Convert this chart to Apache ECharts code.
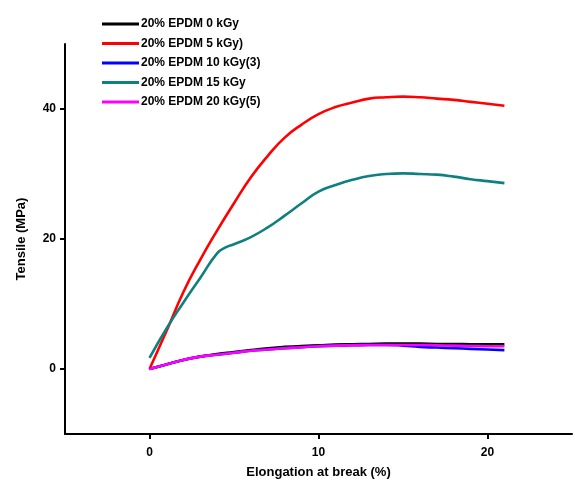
<!DOCTYPE html>
<html><head><meta charset="utf-8">
<script src="https://cdn.jsdelivr.net/npm/echarts@6/dist/echarts.min.js"></script>
<style>html,body{margin:0;padding:0;background:#fff}#c{width:575px;height:481px}</style>
</head><body><div id="c"></div>
<script>
const seriesNames = ['20% EPDM 0 kGy','20% EPDM 5 kGy)','20% EPDM 10 kGy(3)','20% EPDM 15 kGy','20% EPDM 20 kGy(5)'];
const seriesColors = ['#000000','#ff0000','#0000ff','#0f8080','#ff00ff'];
const xLow = [0,1,2,3,4,5,6,7,8,9,10,11,12,13,14,15,16,17,18,19,20,21];
const black0 = [0,0.7,1.4,1.9,2.3,2.6,2.9,3.2,3.4,3.55,3.65,3.75,3.8,3.85,3.9,3.9,3.9,3.85,3.85,3.8,3.8,3.8];
const red5 = [0,5.8,11.8,16.8,21.3,25.5,29.5,32.8,35.6,37.6,39.2,40.3,41.0,41.6,41.8,41.9,41.8,41.6,41.4,41.1,40.8,40.5];
const blue10 = [0,0.7,1.4,1.9,2.2,2.5,2.8,3.0,3.2,3.35,3.5,3.6,3.65,3.7,3.7,3.6,3.4,3.3,3.2,3.1,3.0,2.9];
const xTeal = [0,1,2,3,4,4.5,5,6,7,8,9,10,11,12,13,14,15,16,17,18,19,20,21];
const teal15 = [1.7,6.2,10.2,14.0,17.8,18.7,19.2,20.3,21.8,23.6,25.5,27.3,28.3,29.1,29.7,30.0,30.1,30.0,29.9,29.6,29.2,28.9,28.6];
const mag20 = [0,0.7,1.4,1.9,2.2,2.5,2.8,3.0,3.2,3.35,3.5,3.6,3.65,3.7,3.7,3.7,3.7,3.65,3.6,3.55,3.5,3.5];
const xTicks = [0,10,20];
const yTicks = [0,20,40];

const pair = (xs, ys) => xs.map((x,i)=>[x, ys[i]]);
const seriesData = [pair(xLow,black0), pair(xLow,red5), pair(xLow,blue10), pair(xTeal,teal15), pair(xLow,mag20)];

const chart = echarts.init(document.getElementById('c'));
const font = 'Liberation Sans, Arial, sans-serif';
chart.setOption({
  animation: false,
  backgroundColor: '#fff',
  grid: {left: 65, right: 3, top: 44, bottom: 47, containLabel: false, outerBoundsMode: 'none'},
  legend: {
    orient: 'vertical', left: 97, top: 12,
    itemWidth: 37, itemHeight: 3, itemGap: 5.5, icon: 'rect',
    data: seriesNames,
    textStyle: {fontFamily: font, fontWeight: 'bold', fontSize: 12, color: '#000', lineHeight: 14, padding: [0,0,0,-3]}
  },
  xAxis: {
    type: 'value', min: -5, max: 25,
    name: 'Elongation at break (%)', nameLocation: 'middle', nameGap: 32,
    nameTextStyle: {fontFamily: font, fontWeight: 'bold', fontSize: 13, color: '#000'},
    axisLine: {show: true, onZero: false, lineStyle: {color: '#000', width: 2}},
    axisTick: {show: true, length: 5, lineStyle: {color: '#000', width: 2}, customValues: xTicks},
    axisLabel: {fontFamily: font, fontWeight: 'bold', fontSize: 12, color: '#000', margin: 13, customValues: xTicks},
    splitLine: {show: false}
  },
  yAxis: {
    type: 'value', min: -10, max: 50,
    name: 'Tensile (MPa)', nameLocation: 'middle', nameGap: 37, nameRotate: 90,
    nameTextStyle: {fontFamily: font, fontWeight: 'bold', fontSize: 13, color: '#000'},
    axisLine: {show: true, onZero: false, lineStyle: {color: '#000', width: 2}},
    axisTick: {show: true, length: 5, lineStyle: {color: '#000', width: 2}, customValues: yTicks},
    axisLabel: {fontFamily: font, fontWeight: 'bold', fontSize: 12, color: '#000', margin: 9, customValues: yTicks},
    splitLine: {show: false}
  },
  series: seriesNames.map((n,i)=>({
    name: n, type: 'line', data: seriesData[i], smooth: 0.5, showSymbol: false, symbol: 'none',
    color: seriesColors[i],
    lineStyle: {color: seriesColors[i], width: 2.6}
  }))
});
</script></body></html>
